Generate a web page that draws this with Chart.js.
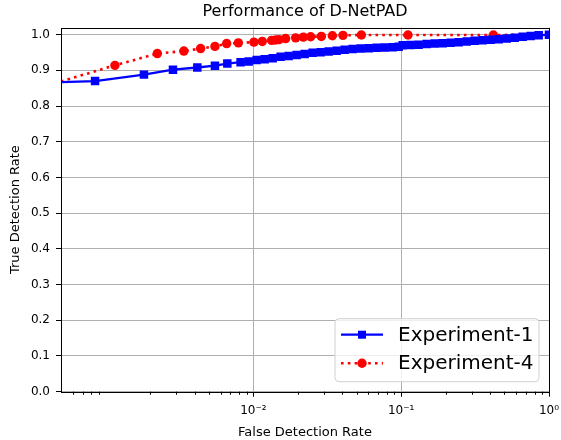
<!DOCTYPE html>
<html>
<head>
<meta charset="utf-8">
<script src="https://cdn.jsdelivr.net/npm/chart.js@4.4.0/dist/chart.umd.min.js"></script>
<style>
  html, body { margin: 0; padding: 0; background: #fff; }
</style>
</head>
<body>
<canvas id="grafico" width="561" height="440"></canvas>
<script>
// Valores (FDR no eixo x, TDR no eixo y)
const exp1Fdr = [0.0005, 0.00085, 0.00182, 0.00286, 0.00418, 0.0055, 0.00667, 0.0082, 0.0093,
  0.01053, 0.01193, 0.01351, 0.0153, 0.01733, 0.01963, 0.02224, 0.02519, 0.02853, 0.03232,
  0.03661, 0.04147, 0.04698, 0.05321, 0.06028, 0.06828, 0.07734, 0.08761, 0.0962, 0.1024,
  0.1159, 0.1313, 0.1488, 0.1685, 0.1909, 0.2162, 0.2449, 0.2775, 0.3143, 0.356, 0.4033,
  0.4569, 0.5176, 0.5862, 0.6641, 0.7522, 0.8518, 1.0];
const exp1Tdr = [0.867, 0.870, 0.888, 0.902, 0.908, 0.913, 0.919, 0.923, 0.925,
  0.929, 0.931, 0.934, 0.938, 0.940, 0.943, 0.946, 0.949, 0.951, 0.953,
  0.955, 0.958, 0.960, 0.961, 0.962, 0.963, 0.964, 0.965, 0.966, 0.970,
  0.971, 0.972, 0.974, 0.975, 0.976, 0.977, 0.979, 0.981, 0.983, 0.984, 0.986,
  0.987, 0.989, 0.991, 0.994, 0.996, 0.998, 1.0];

const exp4Fdr = [0.0005, 0.001158, 0.002241, 0.00339, 0.0044, 0.0055, 0.0066, 0.00792,
  0.01009, 0.0115, 0.0133, 0.01415, 0.0149, 0.01654, 0.01933, 0.02179, 0.02442, 0.02885,
  0.03424, 0.04039, 0.0538, 0.1112, 0.4206, 1.0];
const exp4Tdr = [0.869, 0.914, 0.947, 0.954, 0.961, 0.967, 0.975, 0.977,
  0.979, 0.981, 0.984, 0.985, 0.986, 0.989, 0.991, 0.993, 0.994, 0.995,
  0.997, 0.998, 0.999, 0.999, 0.999, 1.0];

const yTicks = [0.0, 0.1, 0.2, 0.3, 0.4, 0.5, 0.6, 0.7, 0.8, 0.9, 1.0];
const xMajorTicks = [0.01, 0.1, 1];
const xMinorTicks = [0.0006, 0.0007, 0.0008, 0.0009,
  0.002, 0.003, 0.004, 0.005, 0.006, 0.007, 0.008, 0.009,
  0.02, 0.03, 0.04, 0.05, 0.06, 0.07, 0.08, 0.09,
  0.2, 0.3, 0.4, 0.5, 0.6, 0.7, 0.8, 0.9];

const titulo = 'Performance of D-NetPAD';

const sup = { '-': '\u207B', '0': '\u2070', '1': '\u00B9', '2': '\u00B2', '3': '\u00B3' };
function potencia(v) {
  const e = String(Math.round(Math.log10(v)));
  return '10' + e.split('').map(c => sup[c]).join('');
}

Chart.defaults.font.family = 'DejaVu Sans';
Chart.defaults.color = '#000';

// Título, moldura, ticks menores e legenda no canto inferior direito
const moldura = {
  id: 'moldura',
  afterDraw(chart) {
    const { ctx, chartArea: a, scales } = chart;
    ctx.save();

    ctx.fillStyle = '#000';
    ctx.font = '16px "DejaVu Sans"';
    ctx.textAlign = 'center';
    ctx.textBaseline = 'middle';
    ctx.fillText(titulo, (a.left + a.right) / 2, 12);
    ctx.textAlign = 'left';

    ctx.strokeStyle = '#000';
    ctx.lineWidth = 1;
    ctx.strokeRect(Math.round(a.left) + 0.5, Math.round(a.top) + 0.5,
      Math.round(a.right - a.left), Math.round(a.bottom - a.top));
    xMinorTicks.forEach(v => {
      const px = Math.round(scales.x.getPixelForValue(v)) + 0.5;
      ctx.beginPath();
      ctx.moveTo(px, a.bottom);
      ctx.lineTo(px, a.bottom + 3);
      ctx.stroke();
    });

    // legenda
    const w = 204, h = 63;
    const bx = a.right - 10 - w, by = a.bottom - 10 - h;
    const r = 4;
    ctx.beginPath();
    ctx.moveTo(bx + r, by);
    ctx.arcTo(bx + w, by, bx + w, by + h, r);
    ctx.arcTo(bx + w, by + h, bx, by + h, r);
    ctx.arcTo(bx, by + h, bx, by, r);
    ctx.arcTo(bx, by, bx + w, by, r);
    ctx.closePath();
    ctx.fillStyle = 'rgba(255,255,255,0.8)';
    ctx.fill();
    ctx.strokeStyle = '#d0d0d0';
    ctx.stroke();

    chart.data.datasets.forEach((ds, i) => {
      const y = by + 16 + i * 28.5;
      const x0 = bx + 6, x1 = bx + 48, xm = (x0 + x1) / 2;
      ctx.strokeStyle = ds.borderColor;
      ctx.lineWidth = ds.borderWidth;
      ctx.setLineDash(ds.borderDash || []);
      ctx.beginPath();
      ctx.moveTo(x0, y);
      ctx.lineTo(x1, y);
      ctx.stroke();
      ctx.setLineDash([]);
      ctx.fillStyle = ds.borderColor;
      if (ds.pointStyle === 'rect') {
        ctx.fillRect(xm - 4, y - 4, 8, 8);
      } else {
        ctx.beginPath();
        ctx.arc(xm, y, 4.7, 0, Math.PI * 2);
        ctx.fill();
      }
      ctx.fillStyle = '#000';
      ctx.font = '20px "DejaVu Sans"';
      ctx.textBaseline = 'middle';
      ctx.fillText(ds.label, bx + 63, y + 1);
    });
    ctx.restore();
  }
};

const ctxGrafico = document.getElementById('grafico').getContext('2d');
const grafico = new Chart(ctxGrafico, {
  type: 'line',
  data: {
    datasets: [{
      label: 'Experiment-1',
      data: exp1Fdr.map((x, i) => ({ x: x, y: exp1Tdr[i] })),
      borderColor: '#0000ff',
      backgroundColor: '#0000ff',
      borderWidth: 2.3,
      pointStyle: 'rect',
      pointRadius: c => c.dataIndex === 0 ? 0 : 6,
      pointBorderWidth: 0,
      pointHoverRadius: 0,
      tension: 0,
      clip: 0
    }, {
      label: 'Experiment-4',
      data: exp4Fdr.map((x, i) => ({ x: x, y: exp4Tdr[i] })),
      borderColor: '#ff0000',
      backgroundColor: '#ff0000',
      borderWidth: 2.6,
      borderDash: [2.6, 4.2],
      pointStyle: 'circle',
      pointRadius: c => (c.dataIndex === 0 || c.dataIndex === exp4Fdr.length - 1) ? 0 : 4.7,
      pointBorderWidth: 0,
      pointHoverRadius: 0,
      tension: 0,
      clip: 0
    }]
  },
  options: {
    responsive: false,
    animation: false,
    layout: { padding: { left: 0, right: 12, top: 27.5, bottom: 0 } },
    plugins: {
      legend: { display: false },
      tooltip: { enabled: false },
      title: { display: false }
    },
    scales: {
      x: {
        type: 'logarithmic',
        min: 0.0005,
        max: 1,
        afterBuildTicks: s => { s.ticks = xMajorTicks.map(v => ({ value: v })); },
        afterFit: s => { s.height = 48.3; s.paddingRight = 0; s.paddingLeft = 0; },
        ticks: {
          autoSkip: false,
          maxRotation: 0,
          padding: 7,
          font: { size: 12 },
          callback: v => potencia(v)
        },
        grid: { color: '#b0b0b0', tickColor: '#000', tickLength: 5, lineWidth: 1 },
        border: { display: false },
        title: {
          display: true,
          text: 'False Detection Rate',
          font: { size: 13 },
          padding: { top: 1, bottom: 0 }
        }
      },
      y: {
        min: 0,
        max: 1.02,
        afterBuildTicks: s => { s.ticks = yTicks.map(v => ({ value: v })); },
        afterFit: s => { s.width = 61; s.paddingTop = 0; s.paddingBottom = 0; },
        ticks: {
          padding: 6,
          font: { size: 12 },
          callback: v => v.toFixed(1)
        },
        grid: { color: '#b0b0b0', tickColor: '#000', tickLength: 5, lineWidth: 1 },
        border: { display: false },
        title: {
          display: true,
          text: 'True Detection Rate',
          font: { size: 13 },
          padding: { top: 8, bottom: 0 }
        }
      }
    }
  },
  plugins: [moldura]
});
</script>
</body>
</html>
